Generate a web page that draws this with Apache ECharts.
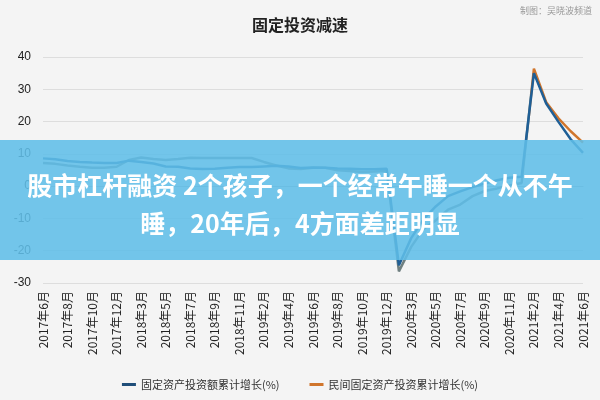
<!DOCTYPE html>
<html><head><meta charset="utf-8">
<script src="https://cdn.jsdelivr.net/npm/echarts@6/dist/echarts.min.js"></script>
<style>html,body{margin:0;padding:0;background:#f4f4f4}#c{width:600px;height:400px}</style>
</head><body><div id="c"></div>
<script>
const categories = ['2017年6月','2017年7月','2017年8月','2017年9月','2017年10月','2017年11月','2017年12月',
'2018年2月','2018年3月','2018年4月','2018年5月','2018年6月','2018年7月','2018年8月','2018年9月','2018年10月','2018年11月','2018年12月',
'2019年2月','2019年3月','2019年4月','2019年5月','2019年6月','2019年7月','2019年8月','2019年9月','2019年10月','2019年11月','2019年12月',
'2020年2月','2020年3月','2020年4月','2020年5月','2020年6月','2020年7月','2020年8月','2020年9月','2020年10月','2020年11月','2020年12月',
'2021年2月','2021年3月','2021年4月','2021年5月','2021年6月'];
const fixedInvest = [8.6,8.3,7.8,7.5,7.3,7.2,7.2, 7.9,7.5,7.0,6.1,6.0,5.5,5.3,5.4,5.7,5.9,5.9,
 6.1,6.3,6.1,5.6,5.8,5.7,5.5,5.4,5.2,5.2,5.4, -24.5,-16.1,-10.3,-6.3,-3.1,-1.6,-0.3,0.8,1.8,2.6,2.9,
 35.0,25.6,19.9,14.5,10.3];
const privateInvest = [7.2,6.9,6.4,6.0,5.7,5.7,6.0, 8.1,8.9,8.4,8.1,8.4,8.8,8.7,8.7,8.7,8.7,8.7,
 7.5,6.4,5.5,5.3,5.7,5.7,4.9,4.7,4.4,4.5,4.7, -26.4,-18.8,-13.3,-10.6,-7.3,-5.7,-3.1,-1.5,-0.7,0.2,1.0,
 36.4,26.0,21.0,17.0,13.5];
const yTicks = {min:-30,max:40,interval:10};
const chart = echarts.init(document.getElementById('c'));
const split = 39.5/44;
chart.setOption({
  backgroundColor:'#f4f4f4',
  title:{text:'固定投资减速',left:'center',top:12,textStyle:{fontSize:16,fontWeight:'bold',color:'#222',fontFamily:'Noto Sans CJK SC'}},
  grid:{left:43,right:17,top:57,bottom:117},
  legend:{bottom:5,itemWidth:14,itemHeight:3,icon:'rect',itemGap:30,textStyle:{fontSize:11,color:'#333',fontFamily:'Noto Sans CJK SC'}},
  xAxis:{type:'category',data:categories,boundaryGap:false,
    axisLine:{lineStyle:{color:'#bbb'}},axisTick:{show:false},
    axisLabel:{interval:1,rotate:90,fontSize:12,color:'#222',fontFamily:'Noto Sans CJK SC'}},
  yAxis:{type:'value',min:yTicks.min,max:yTicks.max,interval:yTicks.interval,
    axisLabel:{fontSize:12,color:'#222',margin:12},splitLine:{lineStyle:{color:'#ddd'}}},
  series:[
    {name:'固定资产投资额累计增长(%)',type:'line',data:fixedInvest,symbol:'none',z:3,
      itemStyle:{color:'#1f4e79'},lineStyle:{width:2.5,color:'#1f5f96'}},
    {name:'民间固定资产投资累计增长(%)',type:'line',data:privateInvest,symbol:'none',z:2,
      itemStyle:{color:'#d0752c'},
      lineStyle:{width:2.5,color:{type:'linear',x:0,y:0,x2:1,y2:0,colorStops:[
        {offset:0,color:'#6f7f80'},{offset:split,color:'#6f7f80'},{offset:split,color:'#d0752c'},{offset:1,color:'#d0752c'}]}}}
  ],
  graphic:[
    {type:'text',right:8,top:6,style:{text:'制图：吴晓波频道',fontSize:9,fill:'#999',fontFamily:'Noto Sans CJK SC'}},
    {type:'rect',left:0,top:140,shape:{width:600,height:120},style:{fill:'rgba(96,190,232,0.88)'},z:100},
    {type:'text',x:300,y:166,z:101,style:{text:'股市杠杆融资 2个孩子，一个经常午睡一个从不午\n睡，20年后，4方面差距明显',
      fill:'#fff',fontSize:25,fontWeight:'bold',lineHeight:38,textAlign:'center',align:'center',fontFamily:'Noto Sans CJK SC'}}
  ]
});
</script></body></html>
